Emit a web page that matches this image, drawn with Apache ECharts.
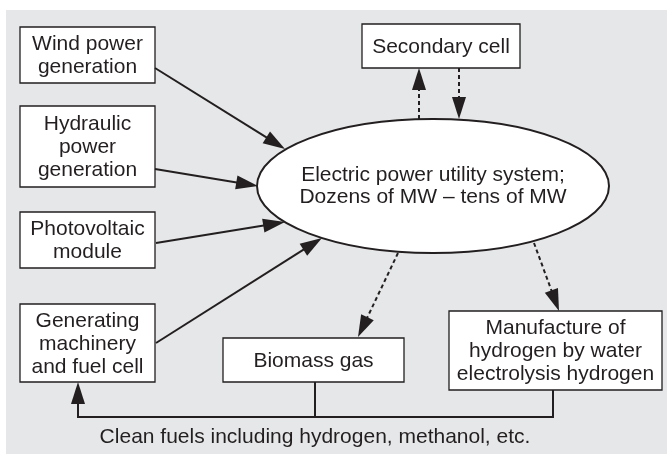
<!DOCTYPE html>
<html>
<head>
<meta charset="utf-8">
<script src="https://cdn.jsdelivr.net/npm/echarts@6/dist/echarts.min.js"></script>
<style>
html, body { margin: 0; padding: 0; background: #fff; }
#diagram { width: 667px; height: 454px; }
</style>
</head>
<body>
<div id="diagram"></div>
<script>
// texts
var boxLabels = [
    'Wind power\ngeneration',
    'Hydraulic\npower\ngeneration',
    'Photovoltaic\nmodule',
    'Generating\nmachinery\nand fuel cell',
    'Biomass gas',
    'Manufacture of\nhydrogen by water\nelectrolysis hydrogen',
    'Secondary cell'
];
var hubLabel = 'Electric power utility system;\nDozens of MW \u2013 tens of MW';
var footLabel = 'Clean fuels including hydrogen, methanol, etc.';

// layout (diagram units = px)
var boxRects = [
    [20, 27, 155, 83],
    [20, 106, 155, 187],
    [20, 212, 155, 268],
    [20, 304, 155, 382],
    [223, 338, 404, 382],
    [449, 311, 662, 390],
    [362, 24, 520, 68]
];
var hubEllipse = [433, 186, 176, 67];
var arrowLinks = [
    // x1, y1, x2, y2, dashed
    [155, 68, 285, 149, 0],
    [155, 169, 258, 186, 0],
    [156, 243, 285, 222, 0],
    [156, 343, 322, 238, 0],
    [419, 119, 419, 68, 1],
    [459, 68, 459, 119, 1],
    [398, 253, 358, 337, 1],
    [534, 243, 559, 311, 1]
];
var fuelPath = [[553, 390], [553, 417], [78, 417], [78, 382]];
var fuelBranch = [[315, 382], [315, 417]];
var footPos = [315, 437];

var ink = '#231f20';
var font = '21px "Liberation Sans", Arial, sans-serif';
var headLen = 22, headHalf = 7;

var chart = echarts.init(document.getElementById('diagram'));

function renderBox(params, api) {
    var p0 = api.coord([api.value(0), api.value(1)]);
    var p1 = api.coord([api.value(2), api.value(3)]);
    return {
        type: 'group',
        children: [{
            type: 'rect',
            shape: { x: p0[0], y: p0[1], width: p1[0] - p0[0], height: p1[1] - p0[1] },
            style: { fill: '#fff', stroke: ink, lineWidth: 1.3 }
        }, {
            type: 'text',
            style: {
                text: boxLabels[params.dataIndex],
                x: (p0[0] + p1[0]) / 2,
                y: (p0[1] + p1[1]) / 2 + 1,
                align: 'center',
                verticalAlign: 'middle',
                font: font,
                lineHeight: 23,
                fill: ink
            }
        }]
    };
}

function renderArrow(params, api) {
    var a = api.coord([api.value(0), api.value(1)]);
    var b = api.coord([api.value(2), api.value(3)]);
    var dashed = api.value(4) === 1;
    var dx = b[0] - a[0], dy = b[1] - a[1];
    var len = Math.sqrt(dx * dx + dy * dy);
    var ux = dx / len, uy = dy / len;
    var bx = b[0] - ux * headLen, by = b[1] - uy * headLen;
    return {
        type: 'group',
        children: [{
            type: 'line',
            shape: { x1: a[0], y1: a[1], x2: bx + ux * 2, y2: by + uy * 2 },
            style: { stroke: ink, lineWidth: 2, lineDash: dashed ? [4, 3] : null }
        }, {
            type: 'polygon',
            shape: { points: [[b[0], b[1]], [bx - uy * headHalf, by + ux * headHalf], [bx + uy * headHalf, by - ux * headHalf]] },
            style: { fill: ink }
        }]
    };
}

option = {
    backgroundColor: '#fff',
    animation: false,
    grid: {
        left: 6, top: 10, right: 0, bottom: 0,
        show: true,
        backgroundColor: '#e6e7e8',
        borderWidth: 0
    },
    xAxis: { type: 'value', min: 6, max: 667, show: false },
    yAxis: { type: 'value', min: 10, max: 454, inverse: true, show: false },
    series: [{
        type: 'custom',
        clip: false,
        z: 2,
        data: [hubEllipse],
        renderItem: function (params, api) {
            var c = api.coord([api.value(0), api.value(1)]);
            var e = api.coord([api.value(0) + api.value(2), api.value(1) + api.value(3)]);
            return {
                type: 'group',
                children: [{
                    type: 'ellipse',
                    shape: { cx: c[0], cy: c[1], rx: e[0] - c[0], ry: e[1] - c[1] },
                    style: { fill: '#fff', stroke: ink, lineWidth: 2 }
                }, {
                    type: 'text',
                    style: {
                        text: hubLabel, x: c[0], y: c[1], align: 'center', verticalAlign: 'middle',
                        font: font, lineHeight: 22, fill: ink
                    }
                }]
            };
        }
    }, {
        type: 'custom',
        clip: false,
        z: 3,
        data: boxRects,
        renderItem: renderBox
    }, {
        type: 'custom',
        clip: false,
        z: 4,
        data: [0],
        renderItem: function (params, api) {
            var pts = fuelPath.map(function (p) { return api.coord(p); });
            var br = fuelBranch.map(function (p) { return api.coord(p); });
            var f = api.coord(footPos);
            var tip = pts[pts.length - 1];
            var line = pts.slice(0, pts.length - 1).concat([[tip[0], tip[1] + headLen - 2]]);
            return {
                type: 'group',
                children: [{
                    type: 'polyline',
                    shape: { points: line },
                    style: { stroke: ink, lineWidth: 2, fill: null }
                }, {
                    type: 'polygon',
                    shape: { points: [[tip[0], tip[1]], [tip[0] - headHalf, tip[1] + headLen], [tip[0] + headHalf, tip[1] + headLen]] },
                    style: { fill: ink }
                }, {
                    type: 'line',
                    shape: { x1: br[0][0], y1: br[0][1], x2: br[1][0], y2: br[1][1] },
                    style: { stroke: ink, lineWidth: 2 }
                }, {
                    type: 'text',
                    style: {
                        text: footLabel, x: f[0], y: f[1], align: 'center', verticalAlign: 'middle',
                        font: font, fill: ink
                    }
                }]
            };
        }
    }, {
        type: 'custom',
        clip: false,
        z: 5,
        data: arrowLinks,
        renderItem: renderArrow
    }]
};
chart.setOption(option);

window.addEventListener('resize', function () {
    chart.resize();
});
</script>
</body>
</html>
